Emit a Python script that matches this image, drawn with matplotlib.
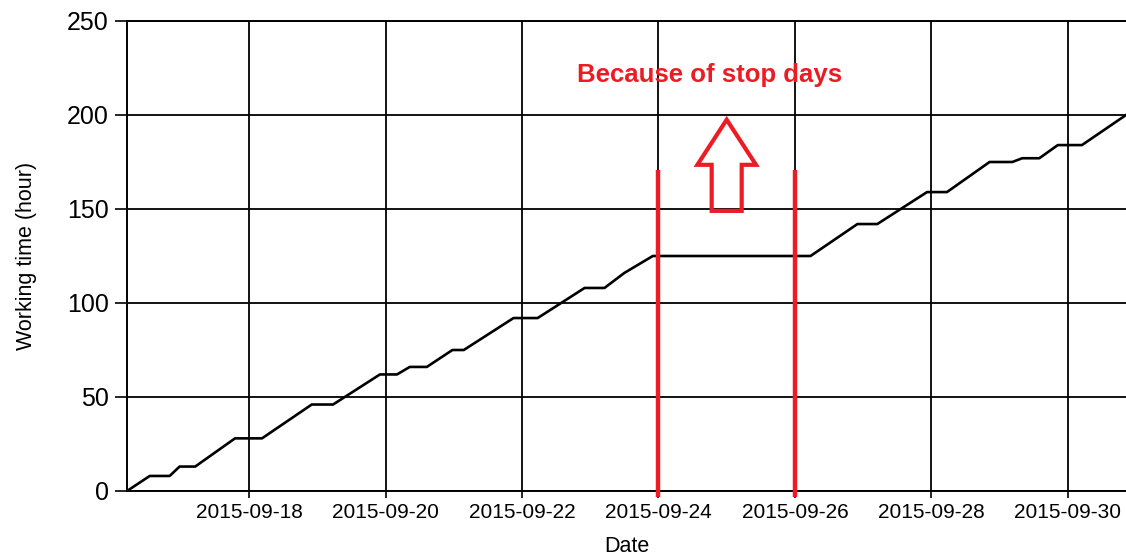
import numpy as np
import pandas as pd
import matplotlib
matplotlib.use("Agg")
import matplotlib.pyplot as plt
import matplotlib.dates as mdates
from matplotlib.patches import FancyArrow

plt.rcParams['font.family'] = ['Liberation Sans', 'DejaVu Sans']

# cumulative working time
times = ['2015-09-16 05:00', '2015-09-16 13:00', '2015-09-16 20:00', '2015-09-16 23:30',
         '2015-09-17 05:00', '2015-09-17 19:00', '2015-09-18 04:30', '2015-09-18 22:00',
         '2015-09-19 05:30', '2015-09-19 22:00', '2015-09-20 04:00', '2015-09-20 08:30',
         '2015-09-20 14:30', '2015-09-20 23:30', '2015-09-21 03:30', '2015-09-21 21:00',
         '2015-09-22 05:30', '2015-09-22 22:00', '2015-09-23 05:00', '2015-09-23 12:00',
         '2015-09-23 22:00', '2015-09-26 05:30', '2015-09-26 22:00', '2015-09-27 05:00',
         '2015-09-27 22:30', '2015-09-28 05:30', '2015-09-28 20:30', '2015-09-29 04:30',
         '2015-09-29 08:00', '2015-09-29 14:00', '2015-09-29 20:30', '2015-09-30 05:00',
         '2015-09-30 20:30']
hours = [0, 8, 8, 13, 13, 28, 28, 46, 46, 62, 62, 66, 66, 75, 75, 92, 92, 108, 108, 116,
         125, 125, 142, 142, 159, 159, 175, 175, 177, 177, 184, 184, 200]

tick_days = ['2015-09-18', '2015-09-20', '2015-09-22', '2015-09-24',
             '2015-09-26', '2015-09-28', '2015-09-30']
y_ticks = [0, 50, 100, 150, 200, 250]

stop_days = ['2015-09-24', '2015-09-26']
note = 'Because of stop days'
red = '#ED1C24'

t = pd.to_datetime(times)
ticks = pd.to_datetime(tick_days)
stops = pd.to_datetime(stop_days)

fig = plt.figure(figsize=(11.26, 5.59), dpi=100)
ax = fig.add_axes([127/1126, 68/559, 999/1126, 470/559])

ax.plot(t, hours, color='black', lw=1.9, zorder=3)

ax.set_xlim(t[0], t[-1])
ax.set_ylim(0, 250)
ax.set_xticks(ticks)
ax.xaxis.set_major_formatter(mdates.DateFormatter('%Y-%m-%d'))
ax.set_yticks(y_ticks)
ax.grid(True, color='black', lw=1.3)

ax.spines['right'].set_visible(False)
for s in ['left', 'bottom', 'top']:
    ax.spines[s].set_linewidth(1.4)

ax.tick_params(axis='y', length=9, width=1.2, labelsize=18, pad=4)
ax.tick_params(axis='x', length=5, width=1.2, labelsize=15, pad=4)
ax.set_xlabel('Date', fontsize=15.5, labelpad=10)
ax.set_ylabel('Working time (hour)', fontsize=15.5, labelpad=22)

# red marks for the stop days
ax.vlines(stops, -3, 171, color=red, lw=3.2, clip_on=False, zorder=4)
mid = stops[0] + (stops[1] - stops[0]) / 2
mx = mdates.date2num(mid)
ax.add_patch(FancyArrow(mx, 149, 0, 48.5, width=0.44, head_width=0.86,
                        head_length=24, length_includes_head=True,
                        fill=False, ec=red, lw=3, zorder=4))
ax.text(mdates.date2num(stops[0]) + 0.75, 221.5, note, color=red, fontsize=18.5,
        fontweight='bold', ha='center', va='center')

fig.savefig('out.png', dpi=100)
